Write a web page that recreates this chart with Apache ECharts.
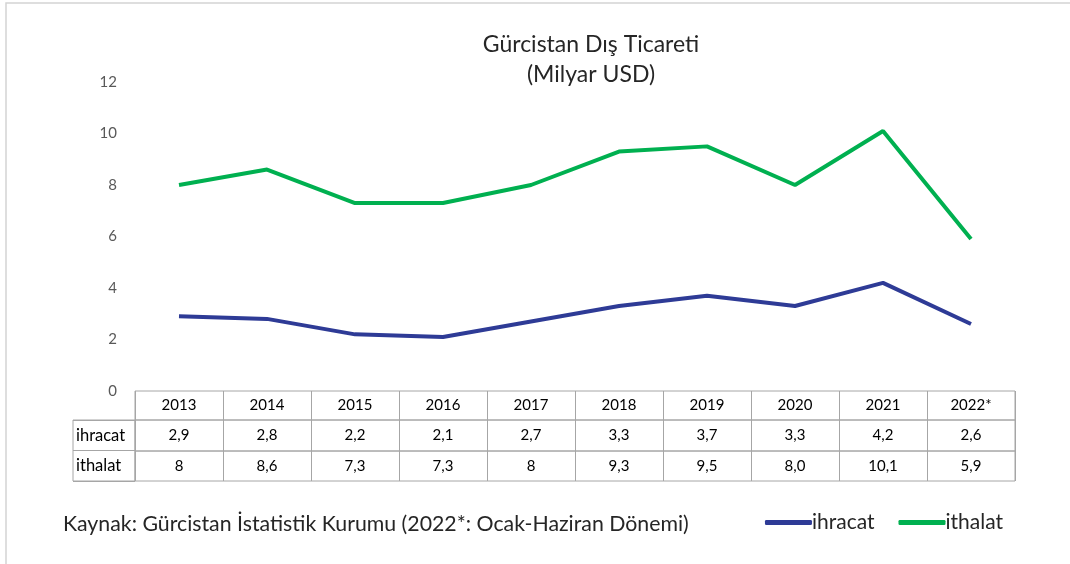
<!DOCTYPE html>
<html>
<head>
<meta charset="utf-8">
<script src="https://cdn.jsdelivr.net/npm/echarts@6/dist/echarts.min.js"></script>
<style>
  html, body { margin: 0; padding: 0; background: #fff; }
  #chart { width: 1070px; height: 564px; }
</style>
</head>
<body>
<div id="chart"></div>
<script>
// values
var years = ['2013', '2014', '2015', '2016', '2017', '2018', '2019', '2020', '2021', '2022*'];
var ihracat = [2.9, 2.8, 2.2, 2.1, 2.7, 3.3, 3.7, 3.3, 4.2, 2.6];
var ithalat = [8, 8.6, 7.3, 7.3, 8, 9.3, 9.5, 8.0, 10.1, 5.9];
// table texts, as printed under the axis
var ihracatText = ['2,9', '2,8', '2,2', '2,1', '2,7', '3,3', '3,7', '3,3', '4,2', '2,6'];
var ithalatText = ['8', '8,6', '7,3', '7,3', '8', '9,3', '9,5', '8,0', '10,1', '5,9'];
var rowNames = ['ihracat', 'ithalat'];

var font = 'Lato, "Noto Sans", sans-serif';
var border = '#a6a6a6';
var myChart = echarts.init(document.getElementById('chart'));

// one grid per table row
function rowAxis(idx, labels, h) {
    return {
        type: 'category',
        gridIndex: idx,
        data: years,
        boundaryGap: true,
        axisLine: {show: false},
        axisTick: {show: false},
        splitLine: {show: true, interval: 0, lineStyle: {color: border}},
        axisLabel: {
            interval: 0,
            margin: -h / 2,
            verticalAlign: 'middle',
            color: '#000',
            fontSize: 15,
            fontFamily: font,
            formatter: function (v, i) { return labels[i]; }
        }
    };
}
function cellGrid(left, top, width, height) {
    return {left: left, top: top, width: width, height: height, show: true,
        borderColor: border, borderWidth: 1, backgroundColor: 'transparent'};
}

var option = {
    animation: false,
    textStyle: {fontFamily: font},
    graphic: [{
        type: 'rect',
        shape: {x: 6, y: 3, width: 1100, height: 600},
        style: {fill: 'none', stroke: '#d4d4d4', lineWidth: 1.5},
        silent: true
    }],
    title: [{
        text: 'Gürcistan Dış Ticareti\n(Milyar USD)',
        left: 586,
        top: 25,
        textAlign: 'center',
        textStyle: {fontSize: 23, fontWeight: 'normal', color: '#262626', lineHeight: 30, fontFamily: font}
    }, {
        text: 'Kaynak: Gürcistan İstatistik Kurumu (2022*: Ocak-Haziran Dönemi)',
        left: 58,
        top: 509,
        textStyle: {fontSize: 21.3, fontWeight: 'normal', color: '#262626', fontFamily: font}
    }],
    legend: {
        data: ['ihracat', 'ithalat'],
        right: 62,
        top: 507,
        icon: 'roundRect',
        itemWidth: 47,
        itemHeight: 5,
        itemGap: 24,
        textStyle: {fontSize: 21, color: '#262626', fontFamily: font, padding: [0, 0, 0, -5]}
    },
    grid: [
        {left: 135, top: 82, width: 880, height: 309},
        cellGrid(135, 391, 880, 29),
        cellGrid(135, 420, 880, 31),
        cellGrid(135, 451, 880, 30),
        cellGrid(73, 420, 62, 61)
    ],
    xAxis: [
        {type: 'category', gridIndex: 0, data: years, boundaryGap: true, show: false},
        rowAxis(1, years, 29),
        rowAxis(2, ihracatText, 31),
        rowAxis(3, ithalatText, 30),
        {type: 'value', gridIndex: 4, show: false}
    ],
    yAxis: [
        {
            type: 'value', gridIndex: 0, min: 0, max: 12, interval: 2,
            axisLine: {show: false}, axisTick: {show: false}, splitLine: {show: false},
            axisLabel: {margin: 18, color: '#595959', fontSize: 15, fontFamily: font}
        },
        {type: 'value', gridIndex: 1, show: false},
        {type: 'value', gridIndex: 2, show: false},
        {type: 'value', gridIndex: 3, show: false},
        {
            type: 'category', gridIndex: 4, data: rowNames, inverse: true,
            axisLine: {show: false}, axisTick: {show: false},
            splitLine: {show: true, interval: 0, lineStyle: {color: border}},
            axisLabel: {interval: 0, align: 'left', margin: -3, color: '#000', fontSize: 16.5, fontFamily: font}
        }
    ],
    series: [
        {
            name: 'ihracat', type: 'line', data: ihracat, xAxisIndex: 0, yAxisIndex: 0,
            symbol: 'none', color: '#2E3B96', lineStyle: {width: 4, color: '#2E3B96'}
        },
        {
            name: 'ithalat', type: 'line', data: ithalat, xAxisIndex: 0, yAxisIndex: 0,
            symbol: 'none', color: '#00B050', lineStyle: {width: 4, color: '#00B050'}
        }
    ]
};

myChart.setOption(option);
</script>
</body>
</html>
